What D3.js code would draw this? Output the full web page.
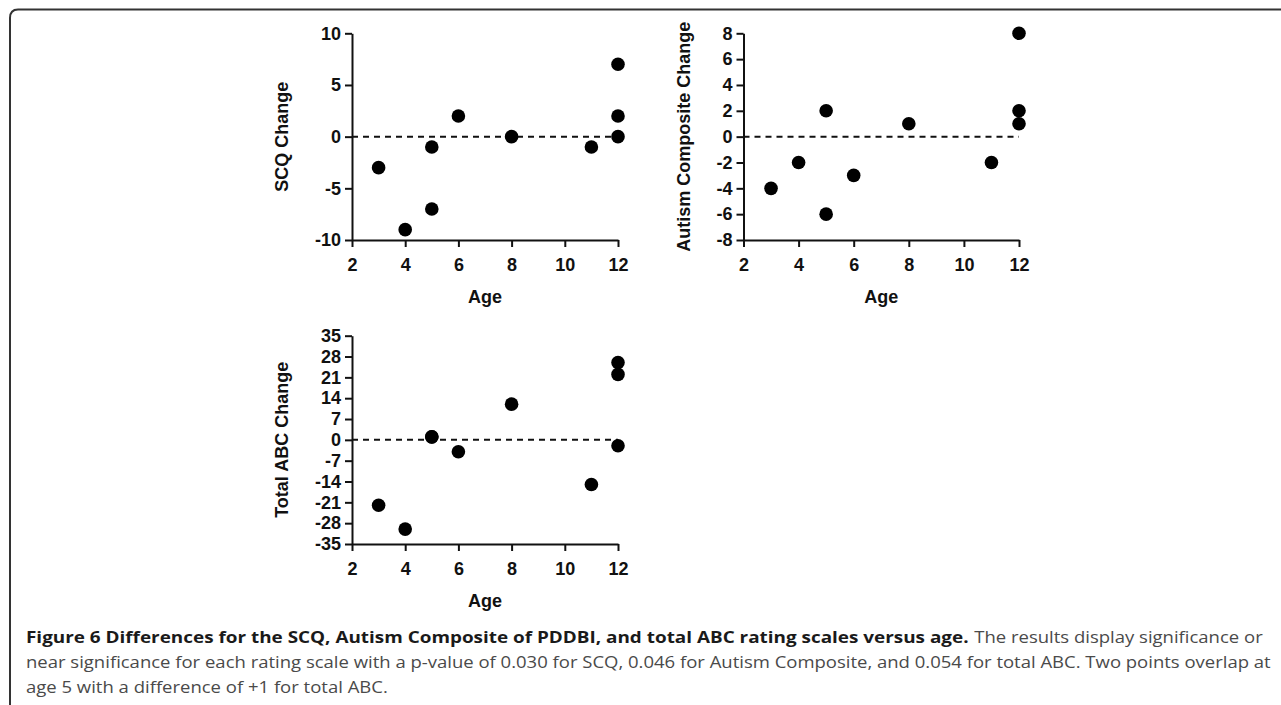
<!DOCTYPE html>
<html>
<head>
<meta charset="utf-8">
<script src="https://cdn.jsdelivr.net/npm/d3@7"></script>
<style>
  html, body { margin: 0; padding: 0; background: #fff; }
  svg { display: block; }
</style>
</head>
<body>
<svg id="chart" width="1281" height="705"></svg>
<script>
// ---- Data ----
const ages = [3, 4, 5, 5, 6, 8, 11, 12, 12, 12];
const scqChange = [-3, -9, -1, -7, 2, 0, -1, 7, 2, 0];
const autismAges = [3, 4, 5, 5, 6, 8, 11, 12, 12, 12];
const autismChange = [-4, -2, 2, -6, -3, 1, -2, 8, 2, 1];
const abcAges = [3, 4, 5, 5, 6, 8, 11, 12, 12, 12];
const abcChange = [-22, -30, 1, 1, -4, 12, -15, 26, 22, -2];

const xTicks = [2, 4, 6, 8, 10, 12];
const scqTicks = [-10, -5, 0, 5, 10];
const autismTicks = [-8, -6, -4, -2, 0, 2, 4, 6, 8];
const abcTicks = [-35, -28, -21, -14, -7, 0, 7, 14, 21, 28, 35];

const captionBold = "Figure 6 Differences for the SCQ, Autism Composite of PDDBI, and total ABC rating scales versus age.";
const captionLines = [
  "The results display significance or",
  "near significance for each rating scale with a p-value of 0.030 for SCQ, 0.046 for Autism Composite, and 0.054 for total ABC. Two points overlap at",
  "age 5 with a difference of +1 for total ABC."
];

const svg = d3.select("#chart");
const FONT = "'Liberation Sans', Arial, Helvetica, sans-serif";

// Frame
svg.append("path")
  .attr("d", "M10,705 L10,18 Q10,9.5 18,9.5 L1281,9.5")
  .attr("fill", "none")
  .attr("stroke", "#333")
  .attr("stroke-width", 2);

function panel(cfg) {
  const x = d3.scaleLinear().domain([2, 12]).range([cfg.x0, cfg.x1]);
  const y = d3.scaleLinear().domain(cfg.yDomain).range([cfg.y1, cfg.y0]);
  const g = svg.append("g");
  const fmt = d => String(d);

  const xAxis = d3.axisBottom(x).tickValues(xTicks).tickFormat(fmt).tickSize(7).tickPadding(11).tickSizeOuter(0);
  const yAxis = d3.axisLeft(y).tickValues(cfg.yTicks).tickFormat(fmt).tickSize(7).tickPadding(4).tickSizeOuter(0);

  const gx = g.append("g").attr("transform", `translate(0,${cfg.y1})`).call(xAxis);
  const gy = g.append("g").attr("transform", `translate(${cfg.x0},0)`).call(yAxis);
  [gx, gy].forEach(a => {
    a.select(".domain").attr("stroke", "#111").attr("stroke-width", 2);
    a.selectAll(".tick line").attr("stroke", "#111").attr("stroke-width", 2);
    a.selectAll(".tick text")
      .attr("fill", "#111")
      .style("font-family", FONT)
      .style("font-weight", "bold")
      .style("font-size", "18px");
  });

  // zero dashed line
  g.append("line")
    .attr("x1", x(2)).attr("x2", x(12))
    .attr("y1", y(0)).attr("y2", y(0))
    .attr("stroke", "#111")
    .attr("stroke-width", 2)
    .attr("stroke-dasharray", "6,5");

  // points
  g.selectAll("circle.pt")
    .data(cfg.xs.map((a, i) => [a, cfg.ys[i]]))
    .enter().append("circle")
    .attr("class", "pt")
    .attr("cx", d => x(d[0]))
    .attr("cy", d => y(d[1]))
    .attr("r", 6.8)
    .attr("fill", "#000");

  // x title
  g.append("text")
    .attr("x", (cfg.x0 + cfg.x1) / 2)
    .attr("y", cfg.y1 + 63)
    .attr("text-anchor", "middle")
    .attr("fill", "#111")
    .style("font-family", FONT)
    .style("font-weight", "bold")
    .style("font-size", "18px")
    .text("Age");

  // y title
  g.append("text")
    .attr("transform", `translate(${cfg.titleX},${(cfg.y0 + cfg.y1) / 2}) rotate(-90)`)
    .attr("text-anchor", "middle")
    .attr("fill", "#111")
    .style("font-family", FONT)
    .style("font-weight", "bold")
    .style("font-size", "18px")
    .text(cfg.title);
}

panel({ x0: 352, x1: 618, y0: 33.3, y1: 240, yDomain: [-10, 10], yTicks: scqTicks,
        xs: ages, ys: scqChange, title: "SCQ Change", titleX: 288 });
panel({ x0: 743.5, x1: 1019, y0: 33.3, y1: 240, yDomain: [-8, 8], yTicks: autismTicks,
        xs: autismAges, ys: autismChange, title: "Autism Composite Change", titleX: 690 });
panel({ x0: 352, x1: 618, y0: 335.7, y1: 544, yDomain: [-35, 35], yTicks: abcTicks,
        xs: abcAges, ys: abcChange, title: "Total ABC Change", titleX: 288 });

// Caption
const CAPFONT = "'Open Sans', 'Noto Sans', sans-serif";
const capBaselines = [643, 668, 693];
function capText(str, bold) {
  return svg.append("text")
    .attr("x", 0).attr("y", 0)
    .style("font-family", CAPFONT)
    .style("font-size", "16px")
    .style("font-weight", bold ? "bold" : "normal")
    .attr("fill", bold ? "#1a1a1a" : "#4a4a4a")
    .text(str);
}
const boldT = capText(captionBold, true);
const lineT = captionLines.map(s => capText(s, false));
// common horizontal condense factor from the full-width second line
const sx = (1272 - 26) / lineT[1].node().getComputedTextLength();
const regW = lineT[0].node().getComputedTextLength() * sx;
const regStart = 1263 - regW;
const bsx = (regStart - 5 - 26) / boldT.node().getComputedTextLength();
boldT.attr("transform", `translate(26,${capBaselines[0]}) scale(${bsx},1)`);
lineT[0].attr("transform", `translate(${regStart},${capBaselines[0]}) scale(${sx},1)`);
lineT[1].attr("transform", `translate(26,${capBaselines[1]}) scale(${sx},1)`);
lineT[2].attr("transform", `translate(26,${capBaselines[2]}) scale(${sx},1)`);
</script>
</body>
</html>
